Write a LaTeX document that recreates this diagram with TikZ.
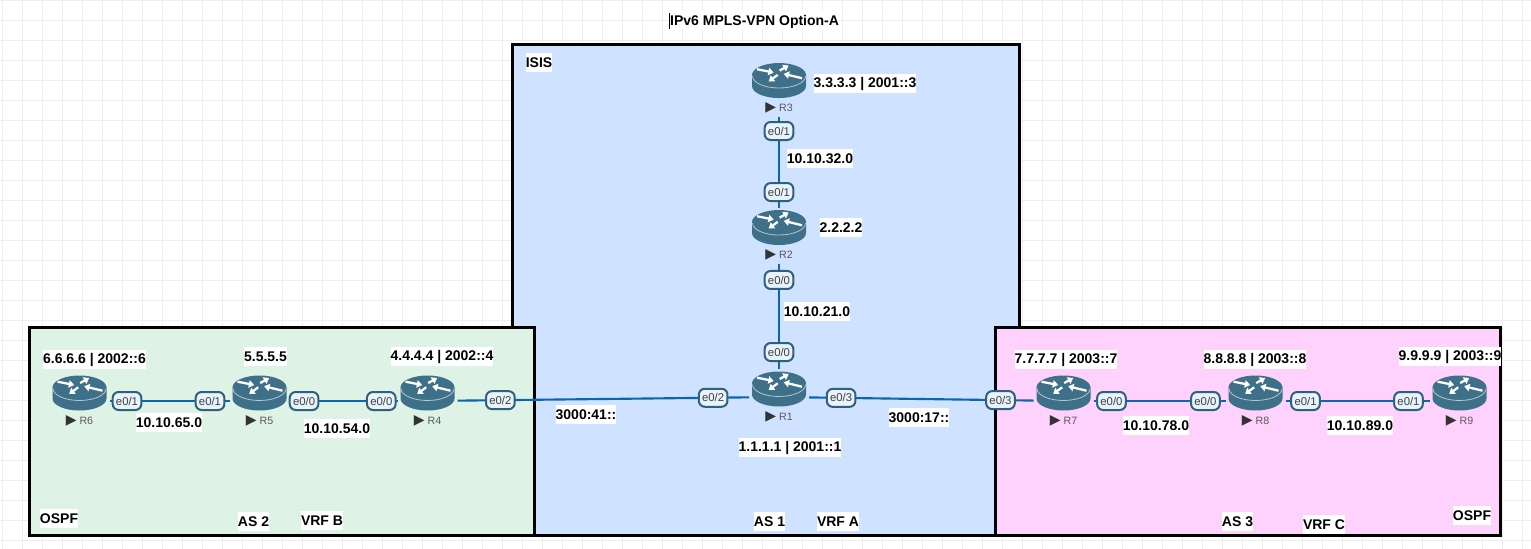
\documentclass[tikz,border=0pt]{standalone}
\usetikzlibrary{arrows.meta}
\usepackage{fontspec}
\setmainfont{Liberation Sans}
\newfontfamily\symbolfont{DejaVu Sans}
\definecolor{gridgray}{HTML}{EEEEEE}
\definecolor{isisblue}{HTML}{CFE2FF}
\definecolor{ospfgreen}{HTML}{DFF2E6}
\definecolor{ospfpink}{HTML}{FFD2FD}
\definecolor{linkblue}{HTML}{0B66AD}
\definecolor{routerteal}{HTML}{3F7089}
\definecolor{portedge}{HTML}{2F607C}
\definecolor{portfill}{HTML}{E8F3FB}
\newcommand{\playmark}{{\symbolfont\color{black!80}\fontsize{10.5}{10}\selectfont ▶}}
\newcommand{\routerparts}[2]{%
  \pic at ([yshift=6pt]#1) {routericon};
  \node[routername] (#1name) at ([yshift=-14.6pt]#1) {\playmark\ #2};
}
\begin{document}
\begin{tikzpicture}[x=0.75pt, y=-0.75pt,
    gridline/.style={draw=gridgray, line width=0.75pt},
    region/.style={draw=black, line width=2.25pt},
    routerbox/.style={minimum width=45pt, minimum height=42pt, inner sep=0pt, outer sep=0pt},
    routername/.style={font=\fontsize{8}{9}\selectfont, text=black!65, inner sep=0pt},
    link/.style={draw=linkblue, line width=1.6pt},
    port/.style={draw=portedge, line width=1.5pt, fill=portfill, rounded corners=4.5pt, text=black!75,
      font=\fontsize{8.5}{9}\selectfont, minimum width=21.5pt, minimum height=13.5pt, inner sep=0pt},
    tag/.style={fill=white, font=\fontsize{10.5}{12}\bfseries\selectfont, minimum height=14.5pt, inner xsep=0pt, inner ysep=0pt, yshift=-0.6pt},
    spoke/.style={white, line width=1.7pt, -{Triangle[width=5.5pt, length=4pt]}},
    pics/routericon/.style={code={
      \fill[routerteal] (-27,-5.5) -- (-27,5.5) arc[x radius=20.25pt, y radius=9pt, start angle=180, end angle=360] -- (27,-5.5) -- cycle;
      \fill[routerteal] (0,-5.5) ellipse[x radius=20.25pt, y radius=9pt];
      \draw[white!60!routerteal, line width=0.6pt] (-26.5,-4.5) arc[x radius=19.9pt, y radius=9pt, start angle=180, end angle=360];
      \draw[spoke] (-22,-11.3) -- (-5.3,-8);
      \draw[spoke] (0.7,-10) -- (9.7,-15);
      \draw[spoke] (23,-2.3) -- (4.7,-6.7);
      \draw[spoke] (-1.3,-5.7) -- (-10.3,1);
    }}]
  \useasboundingbox (0,0) rectangle (1531,549);
  % sheet grid
  \foreach \gx in {2.5,22.5,...,1522.5} \draw[gridline] (\gx,0) -- (\gx,549);
  \foreach \gy in {0.5,20.5,...,540.5} \draw[gridline] (0,\gy) -- (1531,\gy);

  % areas
  \draw[region, fill=isisblue] (512.5,45) rectangle (1019.5,535.5);
  \draw[region, fill=ospfgreen] (29.5,327.5) rectangle (534.5,535.5);
  \draw[region, fill=ospfpink] (995.5,327.5) rectangle (1500.5,535.5);

  % routers
  \node[routerbox] (r1) at (779,397) {};
  \node[routerbox, above of=r1, node distance=121.1pt] (r2) {};
  \node[routerbox, above of=r2, node distance=110.25pt] (r3) {};
  \node[routerbox] (r4) at (427.5,401) {};
  \node[routerbox, left of=r4, node distance=126pt] (r5) {};
  \node[routerbox, left of=r5, node distance=135pt] (r6) {};
  \node[routerbox] (r7) at (1063.5,401) {};
  \node[routerbox, right of=r7, node distance=144pt] (r8) {};
  \node[routerbox, right of=r8, node distance=153pt] (r9) {};
  \routerparts{r1}{R1}
  \routerparts{r2}{R2}
  \routerparts{r3}{R3}
  \routerparts{r4}{R4}
  \routerparts{r5}{R5}
  \routerparts{r6}{R6}
  \routerparts{r7}{R7}
  \routerparts{r8}{R8}
  \routerparts{r9}{R9}

  % links with their ports
  \draw[link] (r3) -- node[port, pos=0.159] (r3e1) {e0/1} node[port, pos=0.83] (r2e1) {e0/1} (r2);
  \draw[link] (r2) -- node[port, pos=0.156] (r2e0) {e0/0} node[port, pos=0.839] (r1e0) {e0/0} (r1);
  \draw[link] (r6) -- node[port, pos=0.146] (r6e1) {e0/1} node[port, pos=0.8375] (r5e1) {e0/1} (r5);
  \draw[link] (r5) -- node[port, pos=0.135] (r5e0) {e0/0} node[port, pos=0.85] (r4e0) {e0/0} (r4);
  \draw[link] (r4) -- node[port, pos=0.147] (r4e2) {e0/2} node[port, pos=0.877] (r1e2) {e0/2} (r1);
  \draw[link] (r1) -- node[port, pos=0.143] (r1e3) {e0/3} node[port, pos=0.853] (r7e3) {e0/3} (r7);
  \draw[link] (r7) -- node[port, pos=0.136] (r7e0) {e0/0} node[port, pos=0.848] (r8e0) {e0/0} (r8);
  \draw[link] (r8) -- node[port, pos=0.139] (r8e1) {e0/1} node[port, pos=0.854] (r9e1) {e0/1} (r9);

  % title and areas' names
  \node[tag] (title) at (754,20) {\rule[-2.5pt]{0.9pt}{12pt}IPv6 MPLS-VPN Option-A};
  \node[tag] (isis) at (539,62) {ISIS};
  \node[tag] (ospfb) at (59,518) {OSPF};
  \node[tag] (asb) at (253.5,521) {AS 2};
  \node[tag] (vrfb) at (322,520) {VRF B};
  \node[tag] (asa) at (769.5,521) {AS 1};
  \node[tag] (vrfa) at (838,521) {VRF A};
  \node[tag] (asc) at (1237.5,521) {AS 3};
  \node[tag] (vrfc) at (1324,524) {VRF C};
  \node[tag] (ospfc) at (1472,515) {OSPF};

  % loopbacks
  \node[tag] (lo1) at (790,447) {1.1.1.1 | 2001::1};
  \node[tag] (lo2) at (841,227) {2.2.2.2};
  \node[tag] (lo3) at (865,83) {3.3.3.3 | 2001::3};
  \node[tag] (lo4) at (442,356) {4.4.4.4 | 2002::4};
  \node[tag] (lo5) at (265.5,356) {5.5.5.5};
  \node[tag] (lo6) at (94.5,359) {6.6.6.6 | 2002::6};
  \node[tag] (lo7) at (1066,359) {7.7.7.7 | 2003::7};
  \node[tag] (lo8) at (1255,359) {8.8.8.8 | 2003::8};
  \node[tag] (lo9) at (1450,356) {9.9.9.9 | 2003::9};

  % subnets
  \node[tag] (net32) at (820,158) {10.10.32.0};
  \node[tag] (net21) at (817,311) {10.10.21.0};
  \node[tag] (net65) at (169,422) {10.10.65.0};
  \node[tag] (net54) at (337,428) {10.10.54.0};
  \node[tag] (net78) at (1156,425) {10.10.78.0};
  \node[tag] (net89) at (1360,425) {10.10.89.0};
  \node[tag] (net41) at (586,414) {3000:41::};
  \node[tag] (net17) at (919,417) {3000:17::};
\end{tikzpicture}
\end{document}
